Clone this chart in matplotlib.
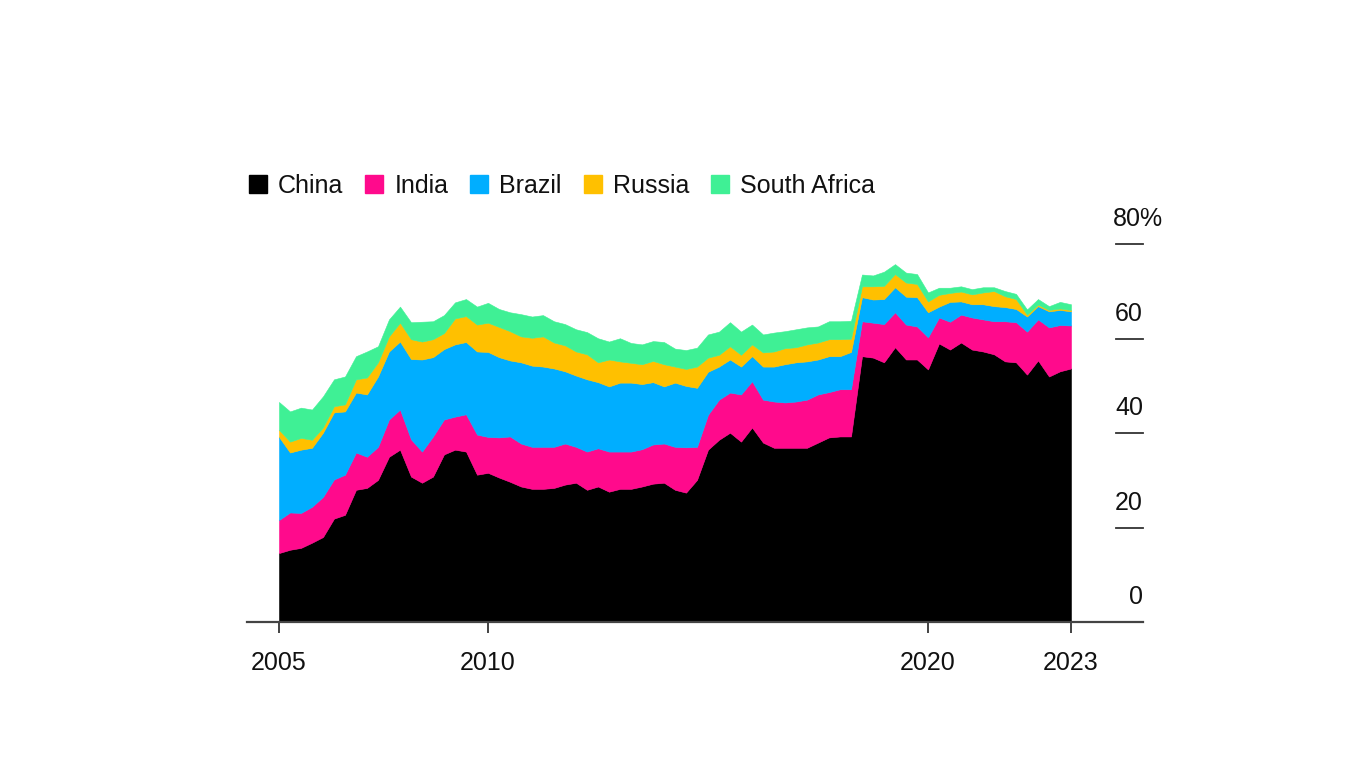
import numpy as np
import pandas as pd
import matplotlib.pyplot as plt
from matplotlib.patches import Rectangle

plt.rcParams['font.family'] = ['Liberation Sans', 'DejaVu Sans']

# quarterly shares (%), 2005Q2 .. 2023Q2
quarters = pd.period_range('2005Q2', '2023Q2', freq='Q')

china = [14.6, 15.3, 15.7, 16.8, 18.0, 21.9, 22.7, 28.0, 28.4, 30.1,
         35.0, 36.5, 30.8, 29.5, 30.8, 35.5, 36.5, 36.1, 31.2, 31.6,
         30.6, 29.7, 28.7, 28.2, 28.2, 28.4, 29.1, 29.5, 28.0, 28.7,
         27.6, 28.2, 28.2, 28.7, 29.3, 29.5, 28.0, 27.4, 30.1, 36.5,
         38.6, 40.1, 38.2, 41.2, 38.0, 36.9, 36.9, 36.9, 36.9, 38.0,
         39.1, 39.3, 39.3, 56.3, 56.0, 55.0, 58.2, 55.6, 55.6, 53.5,
         59.0, 57.7, 59.2, 57.7, 57.3, 56.7, 55.2, 55.0, 52.4, 55.4,
         52.0, 53.1, 53.7]
india = [7.0, 7.9, 7.4, 7.6, 8.5, 8.3, 8.5, 7.9, 6.6, 7.0,
         7.9, 8.5, 7.9, 6.6, 8.5, 7.4, 7.0, 7.9, 8.5, 7.6,
         8.5, 9.6, 9.1, 8.9, 8.9, 8.7, 8.7, 7.6, 8.1, 8.1,
         8.5, 7.9, 7.9, 7.9, 8.3, 8.3, 9.1, 9.6, 7.0, 7.4,
         8.5, 8.5, 10.0, 9.8, 9.1, 9.8, 9.6, 9.8, 10.2, 10.2,
         9.6, 10.0, 10.0, 7.4, 7.4, 8.1, 7.4, 7.4, 7.0, 6.8,
         5.5, 5.9, 5.9, 6.8, 6.8, 7.0, 8.5, 8.5, 9.1, 8.7,
         10.4, 9.8, 9.1]
brazil = [17.6, 12.7, 13.4, 12.5, 13.6, 14.2, 13.4, 12.7, 13.2, 14.9,
          14.4, 14.4, 17.0, 19.5, 16.8, 14.9, 15.3, 15.3, 17.6, 18.0,
          17.0, 16.1, 17.2, 17.2, 17.0, 16.6, 15.3, 15.1, 15.3, 14.0,
          13.8, 14.6, 14.6, 13.8, 13.2, 12.1, 13.6, 13.0, 12.5, 9.1,
          7.0, 7.0, 5.9, 5.3, 7.0, 7.4, 8.1, 8.3, 8.1, 7.4,
          7.6, 7.0, 7.9, 5.1, 4.9, 5.3, 5.3, 5.9, 6.2, 5.3,
          2.3, 4.2, 2.8, 2.8, 3.2, 3.2, 3.0, 2.8, 3.2, 2.8,
          3.4, 3.2, 3.0]
russia = [1.5, 2.3, 2.5, 1.7, 1.1, 1.3, 1.5, 2.8, 3.6, 3.0,
          3.2, 4.0, 4.2, 3.8, 3.8, 3.4, 5.5, 5.5, 5.7, 6.2,
          6.4, 6.2, 5.5, 5.9, 6.4, 5.5, 5.5, 5.1, 5.3, 4.2,
          5.7, 4.5, 4.2, 4.2, 4.5, 4.7, 3.4, 3.6, 4.5, 3.0,
          2.5, 2.8, 2.5, 2.5, 3.0, 3.2, 3.4, 3.2, 3.6, 3.6,
          3.6, 3.6, 2.8, 2.3, 2.8, 2.8, 2.8, 3.0, 2.8, 2.3,
          2.5, 1.9, 2.1, 2.1, 2.5, 3.2, 2.3, 2.1, 0.4, 0.3,
          0.3, 0.3, 0.3]
south_africa = [5.9, 6.4, 6.4, 6.4, 6.6, 5.7, 5.9, 4.9, 5.5, 3.4,
                3.6, 3.4, 3.6, 4.2, 3.8, 3.8, 3.4, 3.6, 3.8, 4.2,
                3.8, 4.0, 4.7, 4.5, 4.5, 4.5, 4.5, 4.7, 4.7, 5.1,
                3.8, 4.9, 4.2, 4.2, 4.2, 4.7, 3.8, 4.0, 4.0, 4.9,
                4.9, 5.1, 4.9, 4.2, 3.8, 4.0, 3.6, 3.8, 3.6, 3.4,
                3.8, 3.8, 3.8, 2.5, 2.3, 3.0, 2.1, 2.1, 2.1, 1.9,
                1.5, 1.1, 1.1, 1.1, 1.1, 0.8, 1.1, 1.1, 1.1, 1.2,
                0.8, 1.4, 1.2]

names = ['China', 'India', 'Brazil', 'Russia', 'South Africa']
colors = ['#000000', '#FF0A8C', '#00AEFF', '#FFC000', '#3FF095']
yticks = [0, 20, 40, 60, 80]
xticks = [2010, 2020]

x = quarters.year + (quarters.quarter - 1) / 4.0

W, H = 1366, 769
fig = plt.figure(figsize=(W / 100, H / 100), dpi=100)
ax = fig.add_axes([247 / W, 147 / H, 896 / W, 377.7 / H])

ax.stackplot(x, china, india, brazil, russia, south_africa,
             colors=colors, linewidth=0.4, edgecolor='face')

x0, x1 = x[0], x[-1]
pxyr = (1071 - 279) / (x1 - x0)
ax.set_xlim(x0 - 32 / pxyr, x1 + 72 / pxyr)
ax.set_ylim(0, 80)

for s in ['left', 'right', 'top']:
    ax.spines[s].set_visible(False)
ax.spines['bottom'].set_color('#444444')
ax.spines['bottom'].set_linewidth(1.6)

ax.set_xticks([x0] + xticks + [x1])
ax.set_xticklabels(['2005', '2010', '2020', '2023'])
ax.tick_params(axis='x', length=8, width=1.2, color='#222222',
               labelsize=18, pad=13, labelcolor='#111111')
ax.set_yticks([])

# right-side value labels with short rules
ytr = ax.get_yaxis_transform()
for v in yticks:
    if v > 0:
        ax.plot([(1116 - 247) / 896, 1.0], [v, v], color='#333333',
                lw=1.3, transform=ytr, clip_on=False)
    lab = f'{v}%' if v == yticks[-1] else str(v)
    xo = 20 if v == yticks[-1] else 0
    ax.annotate(lab, (1.0, v), xycoords=ytr, xytext=(xo * 0.72, 13),
                textcoords='offset points', ha='right', va='baseline',
                fontsize=18, color='#111111')

# legend row
fig.canvas.draw()
r = fig.canvas.get_renderer()
px = 249
ly = H - 193
for name, c in zip(names, colors):
    fig.patches.append(Rectangle((px / W, (H - 193) / H), 18 / W, 18 / H,
                                 transform=fig.transFigure, color=c))
    t = fig.text((px + 29) / W, ly / H, name, fontsize=18,
                 va='baseline', ha='left', color='#111111')
    bb = t.get_window_extent(renderer=r)
    px = bb.x1 + 22

fig.savefig('out.png', dpi=100)
